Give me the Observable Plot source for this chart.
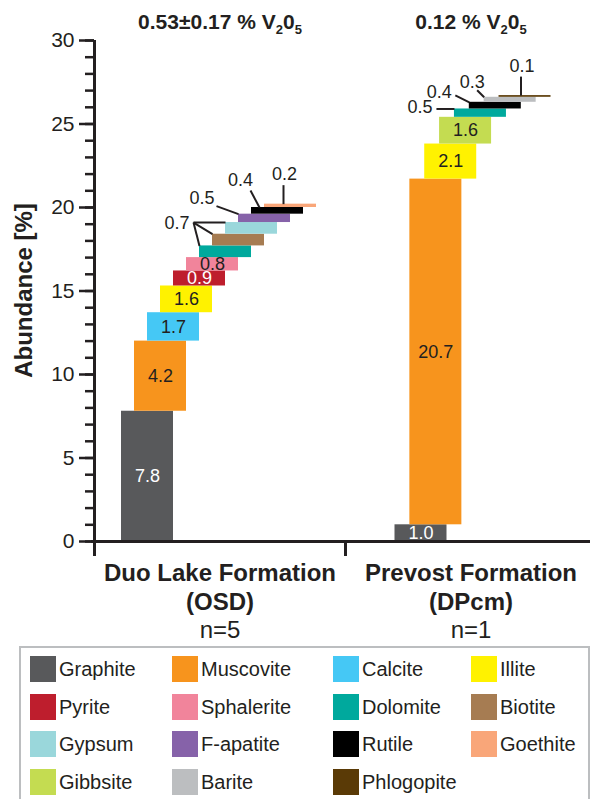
<!DOCTYPE html>
<html>
<head>
<meta charset="utf-8">
<script src="https://cdn.jsdelivr.net/npm/d3@7"></script>
<script src="https://cdn.jsdelivr.net/npm/@observablehq/plot@0.6"></script>
<style>
  html, body { margin: 0; padding: 0; background: #fff; overflow: hidden; }
  #wrap { position: relative; width: 590px; height: 799px; font-family: 'Liberation Sans', Arial, sans-serif; color: #231f20; }
  #legend { position: absolute; left: 19px; top: 646px; width: 571px; height: 175px; border: 2px solid #bcbec0; box-sizing: border-box; }
  .item { position: absolute; height: 26px; display: flex; align-items: center; font-size: 20px; white-space: nowrap; }
  .sw { width: 26px; height: 26px; margin-right: 3px; flex: none; }
</style>
</head>
<body>
<div id="wrap"><div id="chart"></div><div id="legend"></div></div>
<script>
// ---------------- DATA ----------------
const formations = ["Duo Lake Formation", "Prevost Formation"];
const formationCodes = ["(OSD)", "(DPcm)"];
const sampleCounts = ["n=5", "n=1"];
const titles = ["0.53±0.17 % V{2}0{5}", "0.12 % V{2}0{5}"];

const minerals = ["Graphite", "Muscovite", "Calcite", "Illite", "Pyrite", "Sphalerite", "Dolomite", "Biotite",
                  "Gypsum", "F-apatite", "Rutile", "Goethite", "Gibbsite", "Barite", "Phlogopite"];
const mineralColors = ["#58595b", "#f7941d", "#45c8f5", "#fff200", "#be1e2d", "#f1849b", "#00a99d", "#a67c52",
                       "#9ad7db", "#8662a9", "#000000", "#f9a679", "#c4dc51", "#bcbec0", "#5a3a06"];

const duoMinerals = ["Graphite", "Muscovite", "Calcite", "Illite", "Pyrite", "Sphalerite", "Dolomite", "Biotite",
                     "Gypsum", "F-apatite", "Rutile", "Goethite"];
const duoValues = [7.8, 4.2, 1.7, 1.6, 0.9, 0.8, 0.7, 0.7, 0.7, 0.5, 0.4, 0.2];

const prevostMinerals = ["Graphite", "Muscovite", "Illite", "Gibbsite", "Dolomite", "Rutile", "Barite", "Phlogopite"];
const prevostValues = [1.0, 20.7, 2.1, 1.6, 0.5, 0.4, 0.3, 0.1];

const yMajorTicks = [0, 5, 10, 15, 20, 25, 30];
const yMinorTicks = d3.range(0, 31, 1);
const whiteLabelMinerals = ["Graphite", "Pyrite"];

// ---------------- LAYOUT (pixels) ----------------
const W = 590, H = 642;
const X0 = 94, BAND = 251;          // left of plot, width of one formation band
const YBOT = 541, YTOP = 40;        // y of 0 and 30
const pxPerY = (YBOT - YTOP) / 30;
const xInv = px => (px - X0) / BAND;
const yInv = py => (YBOT - py) / pxPerY;

const stepLayout = [{start: 27, step: 13, width: 52}, {start: 49.5, step: 14.86, width: 52}];

const calloutLayout = [
  {gi: 0, ref: "Gypsum", targets: ["Gypsum", "Biotite", "Dolomite"], anchor: [-32, 0], tip: 0, text: [-4, 1], align: "end"},
  {gi: 0, ref: "F-apatite", targets: ["F-apatite"], anchor: [-22, -8], tip: 0, text: [-2, -8], align: "end"},
  {gi: 0, ref: "Rutile", targets: ["Rutile"], anchor: [-1, -17], tip: 8, text: [-10, -10], align: "middle"},
  {gi: 0, ref: "Goethite", targets: ["Goethite"], anchor: [19, -19], tip: 19, text: [1, -11], align: "middle"},
  {gi: 1, ref: "Dolomite", targets: ["Dolomite"], anchor: [-18, 0], tip: 0, text: [-4, -2], align: "end"},
  {gi: 1, ref: "Rutile", targets: ["Rutile"], anchor: [-14, -7], tip: 0, text: [-16, -3], align: "middle"},
  {gi: 1, ref: "Barite", targets: ["Barite"], anchor: [-7, -7], tip: 0, text: [-5, -8], align: "middle"},
  {gi: 1, ref: "Phlogopite", targets: ["Phlogopite"], anchor: [22, -19], tip: 22, text: [1, -10], align: "middle"}
];

// ---------------- BUILD ----------------
const groups = [
  {minerals: duoMinerals, values: duoValues},
  {minerals: prevostMinerals, values: prevostValues}
];
const bars = groups.flatMap((g, gi) => {
  let cum = 0;
  const L = stepLayout[gi];
  return g.minerals.map((m, i) => {
    const left = gi + (L.start + i * L.step) / BAND;
    const b = {gi, mineral: m, value: g.values[i], x1: left, x2: left + L.width / BAND, y1: cum, y2: cum + g.values[i]};
    cum += g.values[i];
    return b;
  });
});
const findBar = (gi, m) => bars.find(b => b.gi === gi && b.mineral === m);

const calloutLines = [], calloutTexts = [];
const calloutMinerals = new Set();
for (const c of calloutLayout) {
  const ref = findBar(c.gi, c.ref);
  const cx = X0 + ref.x1 * BAND, cy = YBOT - ref.y2 * pxPerY;
  const ax = cx + c.anchor[0], ay = cy + c.anchor[1];
  for (const t of c.targets) {
    calloutMinerals.add(c.gi + ":" + t);
    const tb = findBar(c.gi, t);
    const tx = X0 + tb.x1 * BAND + c.tip, ty = YBOT - tb.y2 * pxPerY;
    calloutLines.push({x1: xInv(ax), y1: yInv(ay), x2: xInv(tx), y2: yInv(ty)});
  }
  calloutTexts.push({x: xInv(ax + c.text[0]), y: yInv(ay + c.text[1]), label: ref.value.toFixed(1), align: c.align});
}
const inside = bars.filter(b => !calloutMinerals.has(b.gi + ":" + b.mineral));
const insideWhite = inside.filter(b => whiteLabelMinerals.includes(b.mineral));
const insideDark = inside.filter(b => !whiteLabelMinerals.includes(b.mineral));

const dark = "#231f20";
const font = "'Liberation Sans', Arial, sans-serif";

const plot = Plot.plot({
  width: W, height: H,
  marginLeft: X0, marginRight: 0, marginTop: YTOP, marginBottom: H - YBOT,
  style: {fontFamily: font, fontSize: "21px", color: dark, background: "white", overflow: "visible"},
  x: {domain: [0, (W - X0) / BAND], axis: null},
  y: {domain: [0, 30]},
  color: {domain: minerals, range: mineralColors},
  marks: [
    Plot.rect(bars, {x1: "x1", x2: "x2", y1: "y1", y2: "y2", fill: "mineral"}),
    Plot.text(insideDark, {x: d => (d.x1 + d.x2) / 2, y: d => (d.y1 + d.y2) / 2, text: d => d.value.toFixed(1), fill: dark, fontSize: 18}),
    Plot.text(insideWhite, {x: d => (d.x1 + d.x2) / 2, y: d => (d.y1 + d.y2) / 2, text: d => d.value.toFixed(1), fill: "#ffffff", fontSize: 18}),
    Plot.link(calloutLines, {x1: "x1", y1: "y1", x2: "x2", y2: "y2", stroke: dark, strokeWidth: 2}),
    Plot.text(calloutTexts.filter(d => d.align === "end"), {x: "x", y: "y", text: "label", textAnchor: "end", fill: dark, fontSize: 18}),
    Plot.text(calloutTexts.filter(d => d.align === "middle"), {x: "x", y: "y", text: "label", textAnchor: "middle", fill: dark, fontSize: 18}),
    Plot.axisY({ticks: yMinorTicks, tickSize: 9, tickFormat: () => "", strokeWidth: 2.5, stroke: dark, label: null}),
    Plot.axisY({ticks: yMajorTicks, tickSize: 15, tickPadding: 5, strokeWidth: 2.5, stroke: dark, fill: dark, fontSize: 21, label: null}),
    Plot.ruleX([0], {y1: 0, y2: 30, stroke: dark, strokeWidth: 3}),
    Plot.ruleY([0], {x1: xInv(91), x2: (W - X0) / BAND, stroke: dark, strokeWidth: 3}),
    Plot.ruleX([0, 1], {y1: 0, y2: yInv(556), stroke: dark, strokeWidth: 3}),
    Plot.text(formations, {x: (d, i) => i + 0.5, y: 0, dy: 32, text: d => d, fontWeight: "bold", fontSize: 24, fill: dark}),
    Plot.text(formationCodes, {x: (d, i) => i + 0.5, y: 0, dy: 61, text: d => d, fontWeight: "bold", fontSize: 24, fill: dark}),
    Plot.text(sampleCounts, {x: (d, i) => i + 0.5, y: 0, dy: 89, text: d => d, fontSize: 24, fill: dark}),
    Plot.text(titles, {x: (d, i) => i + 0.5, y: yInv(22), text: d => d, fontWeight: "bold", fontSize: 21, fill: dark}),
    Plot.text(["Abundance [%]"], {x: xInv(24), y: yInv(290), text: d => d, rotate: -90, fontWeight: "bold", fontSize: 24, fill: dark})
  ]
});
document.getElementById("chart").appendChild(plot);

// subscripts in the V2O5 titles
d3.select(plot).selectAll("text").filter(function () { return /\{\d+\}/.test(this.textContent); }).each(function () {
  const s = this.textContent;
  const parts = s.split(/\{(\d+)\}/);
  this.textContent = "";
  let shifted = false;
  parts.forEach((p, k) => {
    if (!p) return;
    const t = d3.select(this).append("tspan").text(p);
    if (k % 2 === 1) {
      t.attr("font-size", 13);
      if (!shifted) t.attr("dy", "5");
      shifted = true;
    } else if (shifted) {
      t.attr("dy", "-5");
      shifted = false;
    }
  });
});

// legend
const legend = d3.select("#legend");
const colX = [9, 151, 312, 450];
const rowY = [8, 46, 83, 121];
minerals.forEach((m, i) => {
  const it = legend.append("div").attr("class", "item")
    .style("left", colX[i % 4] + "px").style("top", rowY[Math.floor(i / 4)] + "px");
  it.append("div").attr("class", "sw").style("background", mineralColors[i]);
  it.append("span").text(m);
});
</script>
</body>
</html>
